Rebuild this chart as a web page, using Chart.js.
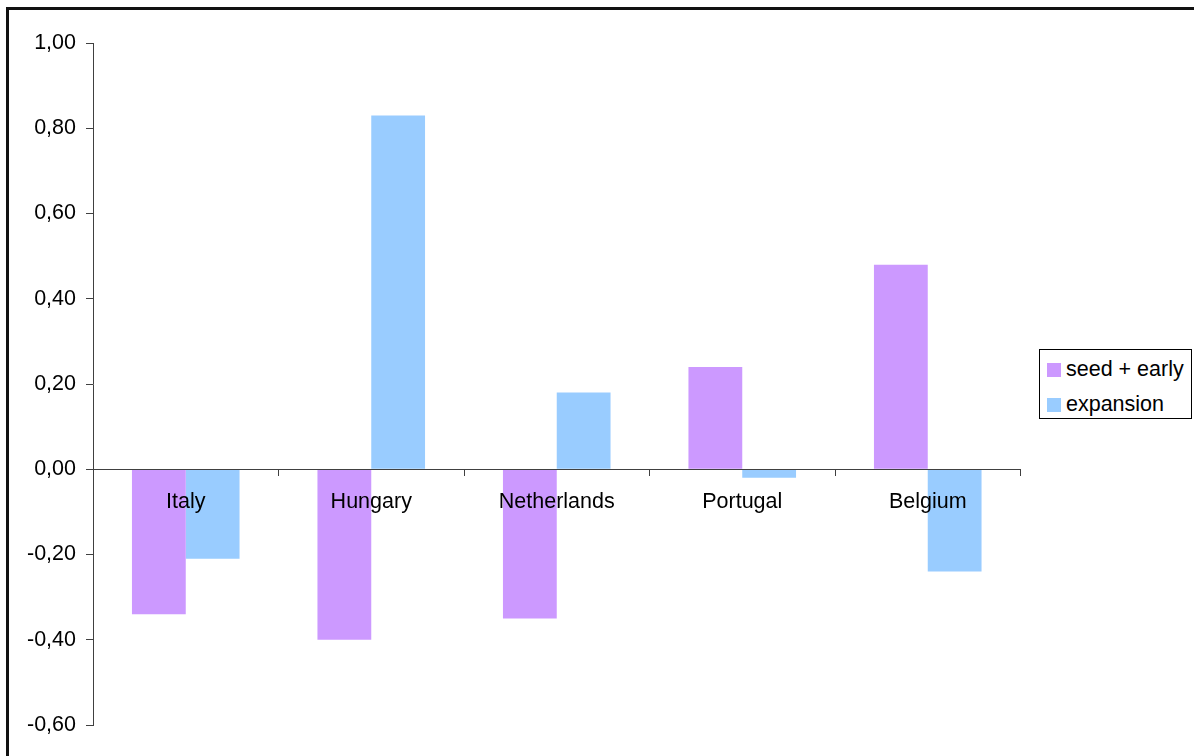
<!DOCTYPE html>
<html>
<head>
<meta charset="utf-8">
<script src="https://cdn.jsdelivr.net/npm/chart.js@4"></script>
<style>
  body { margin: 0; background: #fff; overflow: hidden; }
  #wrap { position: relative; width: 1194px; height: 756px; }
  #frame { position: absolute; left: 6px; top: 7px; width: 1300px; height: 900px; border: 3px solid #111; box-sizing: border-box; pointer-events: none; }
  #legend { position: absolute; left: 1039px; top: 349px; width: 153px; height: 70px; border: 1px solid #000; box-sizing: border-box; background: #fff;
    font-family: "Liberation Sans", Arial, sans-serif; font-size: 21.5px; color: #000; }
  .item { position: absolute; left: 7px; white-space: nowrap; line-height: 24px; }
  .item span { display: inline-block; width: 14px; height: 14px; margin-right: 5px; vertical-align: -1px; }
</style>
</head>
<body>
<div id="wrap">
  <canvas id="chart" width="1194" height="756"></canvas>
  <div id="frame"></div>
  <div id="legend"></div>
</div>
<script>
const categories = ["Italy", "Hungary", "Netherlands", "Portugal", "Belgium"];
const seedEarly = [-0.34, -0.40, -0.35, 0.24, 0.48];
const expansion = [-0.21, 0.83, 0.18, -0.02, -0.24];
const seriesNames = ["seed + early", "expansion"];
const seriesColors = ["#CC99FF", "#99CCFF"];

const font = { family: "'Liberation Sans', Arial, sans-serif", size: 21.5 };

// legend as html so it can sit in its own little box
const legend = document.getElementById("legend");
seriesNames.forEach((name, i) => {
  const row = document.createElement("div");
  row.className = "item";
  row.style.top = (i === 0 ? 7 : 42) + "px";
  row.innerHTML = `<span style="background:${seriesColors[i]}"></span>${name}`;
  legend.appendChild(row);
});

const ctx = document.getElementById("chart").getContext("2d");
new Chart(ctx, {
  type: "bar",
  data: {
    labels: categories,
    datasets: [
      { label: seriesNames[0], data: seedEarly, backgroundColor: seriesColors[0] },
      { label: seriesNames[1], data: expansion, backgroundColor: seriesColors[1] },
    ],
  },
  options: {
    responsive: false,
    animation: false,
    layout: { padding: { left: 0, top: 43, right: 173.5, bottom: 31 } },
    datasets: { bar: { categoryPercentage: 0.58, barPercentage: 1 } },
    plugins: { legend: { display: false }, tooltip: { enabled: false } },
    scales: {
      x: {
        position: { y: 0 },
        grid: { display: true, drawOnChartArea: false, offset: true, tickLength: 6, color: "#404040", z: 1 },
        border: { display: true, color: "#404040", width: 1, z: 1 },
        // z 1 so the names are written over the bars
        ticks: { z: 1, color: "#000", font: font, padding: 14, maxRotation: 0, autoSkip: false },
      },
      y: {
        min: -0.6,
        max: 1.0,
        afterFit: (s) => { s.width = 93; },
        grid: { display: true, drawOnChartArea: false, tickLength: 7, color: "#404040" },
        border: { display: true, color: "#404040", width: 1 },
        ticks: {
          stepSize: 0.2,
          color: "#000",
          font: font,
          padding: 10,
          callback: (v) => v.toFixed(2).replace(".", ",").replace("-0,00", "0,00"),
        },
      },
    },
  },
});
</script>
</body>
</html>
